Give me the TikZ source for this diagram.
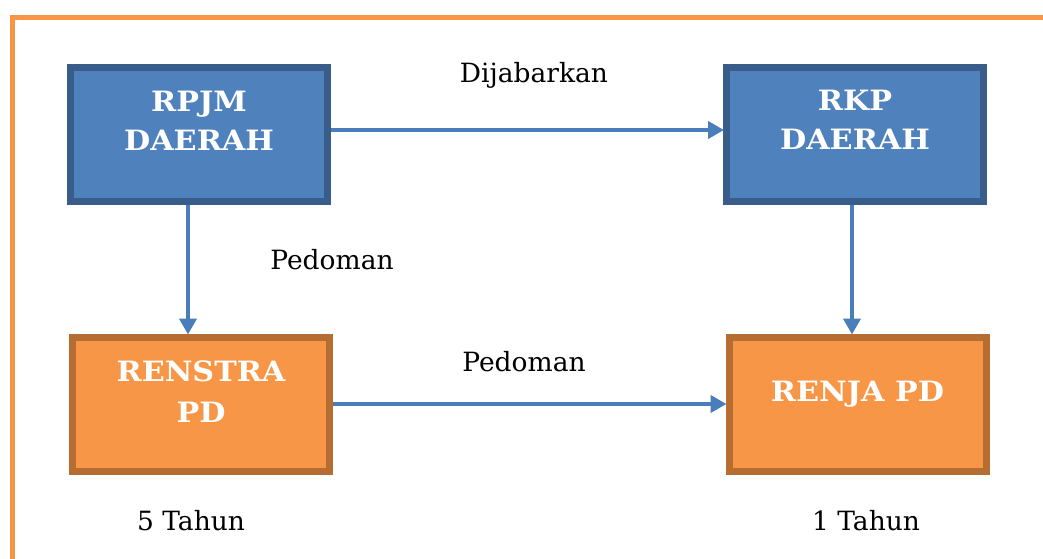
\documentclass[tikz,border=0pt]{standalone}
\usepackage{fontspec}
\setmainfont{DejaVu Serif}
\newfontfamily\boxfont[FakeStretch=1.08]{DejaVu Serif Bold}
\usetikzlibrary{arrows.meta}
\definecolor{bfill}{HTML}{4F81BD}
\definecolor{bline}{HTML}{385D8A}
\definecolor{ofill}{HTML}{F79646}
\definecolor{oline}{HTML}{B66D31}
\definecolor{arr}{HTML}{4A7EBB}
\tikzset{
  bluebox/.style={draw=bline, fill=bfill, line width=7pt, minimum width=257pt, minimum height=134pt, inner sep=0pt},
  orangebox/.style={draw=oline, fill=ofill, line width=7pt, minimum width=257pt, minimum height=134pt, inner sep=0pt},
  boxtext/.style={text=white, align=center, font=\boxfont\fontsize{28}{39}\selectfont, inner sep=0pt},
  lbl/.style={font=\fontsize{26.5}{30}\selectfont, inner sep=0pt},
  conn/.style={draw=arr, line width=4.5pt, -{Triangle[length=16pt,width=17pt]}, shorten >=-1pt}
}
\begin{document}
\begin{tikzpicture}[x=1pt,y=-1pt]
\useasboundingbox (0,0) rectangle (1043,558);
\fill[white] (0,0) rectangle (1043,558);
\draw[ofill, line width=5.5pt] (12.5,600) -- (12.5,17.5) -- (1100,17.5);
\node[bluebox] (rpjm) at (199,134) {};
\node[bluebox] (rkp) at (855,134) {};
\node[orangebox] (renstra) at (201,404) {};
\node[orangebox] (renja) at (857.5,404) {};
\node[boxtext] (trpjm) at (199,121) {RPJM\\DAERAH};
\node[boxtext] (trkp) at (855,120) {RKP\\DAERAH};
\node[boxtext, font=\boxfont\fontsize{28}{41}\selectfont] (trenstra) at (201,392) {RENSTRA\\PD};
\node[boxtext] (trenja) at (857.5,394) {RENJA PD};
\draw[conn] (rpjm.east |- 0,130) -- (rkp.west |- 0,130);
\draw[conn] (renstra.east |- 0,404) -- (renja.west |- 0,404);
\draw[conn] (rpjm.south -| 188,0) -- (renstra.north -| 188,0);
\draw[conn] (rkp.south -| 852,0) -- (renja.north -| 852,0);
\node[lbl] (l1) at (534,75) {Dijabarkan};
\node[lbl] (l2) at (332,260) {Pedoman};
\node[lbl] (l3) at (524,362) {Pedoman};
\node[lbl] (l4) at (191,521) {5 Tahun};
\node[lbl] (l5) at (866,521) {1 Tahun};
\end{tikzpicture}
\end{document}
